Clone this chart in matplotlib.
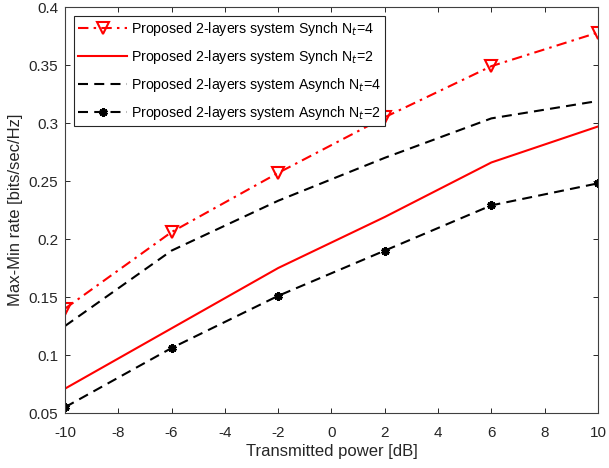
import matplotlib.pyplot as plt
import numpy as np

plt.rcParams['font.family'] = ['Liberation Sans', 'DejaVu Sans']
plt.rcParams['axes.unicode_minus'] = False

# Transmitted power [dB]
power_db = [-10, -6, -2, 2, 6, 10]

# Max-Min rate [bits/sec/Hz]
synch_nt4 = [0.140, 0.206, 0.257, 0.305, 0.349, 0.378]
synch_nt2 = [0.071, 0.123, 0.175, 0.219, 0.266, 0.297]
asynch_nt4 = [0.125, 0.190, 0.233, 0.270, 0.304, 0.319]
asynch_nt2 = [0.055, 0.106, 0.151, 0.190, 0.229, 0.248]

labels = ['Proposed 2-layers system Synch N$_t$=4',
          'Proposed 2-layers system Synch N$_t$=2',
          'Proposed 2-layers system Asynch N$_t$=4',
          'Proposed 2-layers system Asynch N$_t$=2']

xticks = np.arange(-10, 11, 2)
yticks = [0.05, 0.1, 0.15, 0.2, 0.25, 0.3, 0.35, 0.4]
ytick_labels = ['0.05', '0.1', '0.15', '0.2', '0.25', '0.3', '0.35', '0.4']

fig = plt.figure(figsize=(6.09, 4.68), dpi=100)
ax = fig.add_axes([0.1067, 0.1175, 0.8752, 0.8675])

dash = (0, (4.8, 3))
ax.plot(power_db, synch_nt4, color='red', linestyle=(0, (5, 2.5, 1.2, 2.5)), linewidth=1.5,
        marker='v', markersize=8, markerfacecolor='none', markeredgewidth=1.5,
        label=labels[0])
ax.plot(power_db, synch_nt2, color='red', linestyle='-', linewidth=1.5,
        label=labels[1])
ax.plot(power_db, asynch_nt4, color='black', linestyle=dash, linewidth=1.5,
        label=labels[2])
ax.plot(power_db, asynch_nt2, color='black', linestyle=dash, linewidth=1.5,
        marker=(6, 2, 0), markersize=6, markeredgewidth=2.2,
        label=labels[3])

ax.set_xlim(-10, 10)
ax.set_ylim(0.05, 0.4)
ax.set_xticks(xticks)
ax.set_yticks(yticks)
ax.set_yticklabels(ytick_labels)
ax.tick_params(direction='in', top=True, right=True, labelsize=11, colors='#262626',
               length=3.6, width=0.7)
ax.tick_params(axis='x', pad=9)
ax.tick_params(axis='y', pad=5)
for s in ax.spines.values():
    s.set_color('#404040')
    s.set_linewidth(0.8)

ax.set_xlabel('Transmitted power [dB]', fontsize=12, color='#262626', labelpad=3)
ax.set_ylabel('Max-Min rate [bits/sec/Hz]', fontsize=12, color='#262626', labelpad=4)

leg = ax.legend(loc='upper left', bbox_to_anchor=(0.0169, 0.978), borderaxespad=0,
                fontsize=10.2, frameon=True, fancybox=False, framealpha=1,
                edgecolor='#262626', handlelength=3.45, handletextpad=0.3,
                borderpad=0.3, labelspacing=0.7)
leg.get_frame().set_linewidth(0.8)

fig.savefig('out.png', dpi=100)
